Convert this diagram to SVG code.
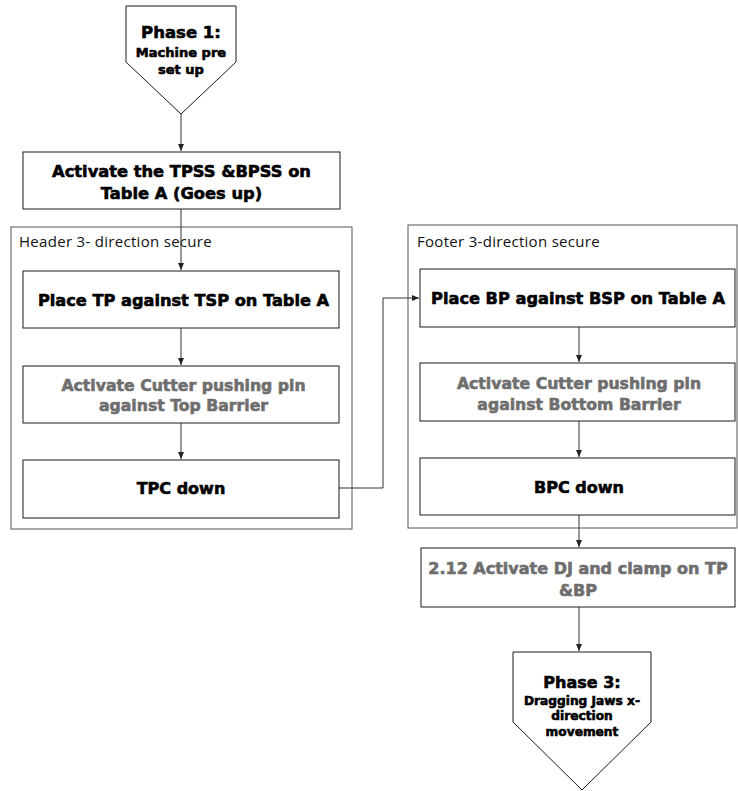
<svg xmlns="http://www.w3.org/2000/svg" width="738" height="791" viewBox="0 0 738 791">
  <style>
    .box { fill: #ffffff; stroke: #1a1a1a; stroke-width: 1; }
    .lane { fill: #ffffff; stroke: #555555; stroke-width: 1; }
    .wire { fill: none; stroke: #333333; stroke-width: 1; }
    .t { font-family: "DejaVu Sans", "Liberation Sans", sans-serif; font-weight: bold; text-anchor: middle; fill: #000000; stroke: #000000; stroke-width: 0.6; }
    .g { fill: #6e6e6e; stroke: #6e6e6e; }
    .lbl { font-family: "Open Sans", "Liberation Sans", sans-serif; font-size: 15px; letter-spacing: 0.3px; fill: #111111; }
  </style>
  <defs>
    <marker id="arr" markerWidth="8" markerHeight="8" refX="7" refY="4" orient="auto" markerUnits="userSpaceOnUse">
      <path d="M0,1 L7,4 L0,7 Z" fill="#222222"/>
    </marker>
  </defs>

  <!-- swimlane containers -->
  <g id="lane-header">
    <rect class="lane" x="11" y="227" width="341" height="302"/>
    <text class="lbl" x="19" y="247">Header 3- direction secure</text>
  </g>
  <g id="lane-footer">
    <rect class="lane" x="408" y="225" width="329" height="303"/>
    <text class="lbl" x="417" y="247">Footer 3-direction secure</text>
  </g>

  <!-- connectors -->
  <g id="connectors">
    <path class="wire" d="M181,114 V151" marker-end="url(#arr)"/>
    <path class="wire" d="M181,209 V270" marker-end="url(#arr)"/>
    <path class="wire" d="M181,328 V365" marker-end="url(#arr)"/>
    <path class="wire" d="M181,423 V459" marker-end="url(#arr)"/>
    <path class="wire" d="M339,488 H383 V298 H419" marker-end="url(#arr)"/>
    <path class="wire" d="M579,327 V362" marker-end="url(#arr)"/>
    <path class="wire" d="M579,421 V457" marker-end="url(#arr)"/>
    <path class="wire" d="M579,515 V547" marker-end="url(#arr)"/>
    <path class="wire" d="M579,607 V651" marker-end="url(#arr)"/>
  </g>

  <!-- phase 1 off-page marker -->
  <g id="phase1">
    <path class="box" d="M126,6 H236 V62 L181,114 L126,62 Z"/>
    <text class="t" x="181" y="38" font-size="16.5">Phase 1:</text>
    <text class="t" x="181" y="57" font-size="13">Machine pre</text>
    <text class="t" x="181" y="74" font-size="13">set up</text>
  </g>

  <g id="activate-tpss">
    <rect class="box" x="23" y="152" width="317" height="57"/>
    <text class="t" x="181.5" y="177" font-size="16.3">Activate the TPSS &amp;BPSS on</text>
    <text class="t" x="181.5" y="199" font-size="16.3">Table A (Goes up)</text>
  </g>

  <g id="place-tp">
    <rect class="box" x="23" y="271" width="316" height="57"/>
    <text class="t" x="183.5" y="306" font-size="16.2">Place TP against TSP on Table A</text>
  </g>

  <g id="cutter-top">
    <rect class="box" x="23" y="366" width="316" height="57"/>
    <text class="t g" x="183.5" y="391" font-size="15.7">Activate Cutter pushing pin</text>
    <text class="t g" x="183.5" y="411" font-size="15.7">against Top Barrier</text>
  </g>

  <g id="tpc-down">
    <rect class="box" x="23" y="460" width="316" height="58"/>
    <text class="t" x="181" y="494" font-size="16">TPC down</text>
  </g>

  <g id="place-bp">
    <rect class="box" x="420" y="269" width="315" height="58"/>
    <text class="t" x="578" y="304" font-size="16.2">Place BP against BSP on Table A</text>
  </g>

  <g id="cutter-bottom">
    <rect class="box" x="420" y="363" width="315" height="58"/>
    <text class="t g" x="579" y="389" font-size="15.7">Activate Cutter pushing pin</text>
    <text class="t g" x="579" y="410" font-size="15.7">against Bottom Barrier</text>
  </g>

  <g id="bpc-down">
    <rect class="box" x="420" y="458" width="315" height="57"/>
    <text class="t" x="579" y="493" font-size="16">BPC down</text>
  </g>

  <g id="activate-dj">
    <rect class="box" x="421" y="548" width="314" height="59"/>
    <text class="t g" x="578" y="574" font-size="16">2.12 Activate DJ and clamp on TP</text>
    <text class="t g" x="578" y="596" font-size="16">&amp;BP</text>
  </g>

  <!-- phase 3 off-page marker -->
  <g id="phase3">
    <path class="box" d="M513,652 H651 V722 L582,790 L513,722 Z"/>
    <text class="t" x="582" y="688" font-size="16">Phase 3:</text>
    <text class="t" x="582" y="705" font-size="12.2">Dragging Jaws x-</text>
    <text class="t" x="582" y="720" font-size="12.2">direction</text>
    <text class="t" x="582" y="736" font-size="12.2">movement</text>
  </g>
</svg>
